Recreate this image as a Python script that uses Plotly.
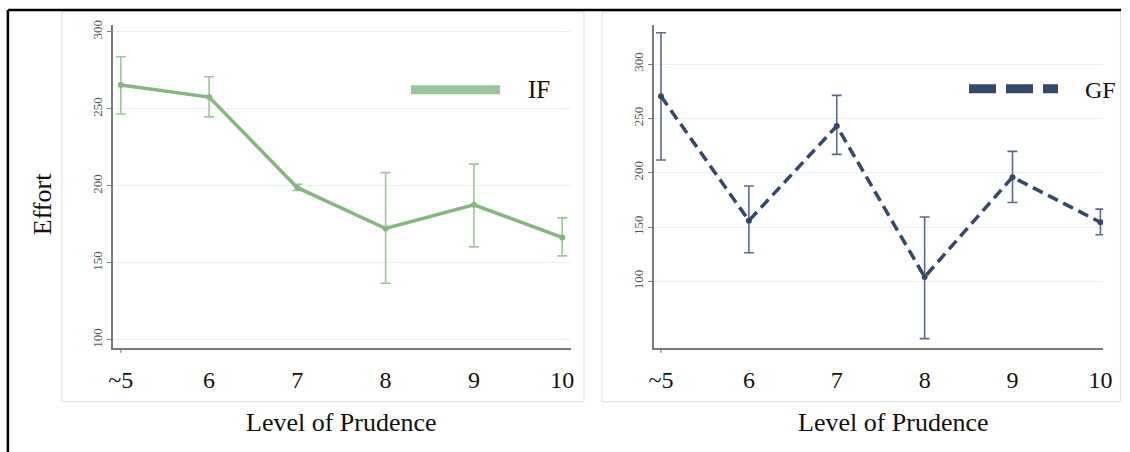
import plotly.graph_objects as go

# ---------------- data ----------------
categories = ["~5", "6", "7", "8", "9", "10"]

if_mean = [265.4, 257.6, 198.8, 172.3, 187.7, 166.5]
if_upper = [283.8, 270.8, 201.0, 208.6, 214.1, 179.2]
if_lower = [246.6, 244.8, 197.0, 136.8, 160.4, 154.5]

gf_mean = [270.3, 156.0, 243.0, 104.2, 196.0, 154.5]
gf_upper = [328.7, 187.8, 271.2, 159.4, 219.7, 166.6]
gf_lower = [211.8, 126.4, 216.9, 47.5, 172.7, 143.0]

y_ticks_left = [100, 150, 200, 250, 300]
y_ticks_right = [100, 150, 200, 250, 300]

# ---------------- styling ----------------
W, H = 1130, 452
SERIF = "Liberation Serif, Times New Roman, serif"
IF_LINE = "#84b67e"
IF_ERR = "#9cc799"
IF_LEG = "#9dc59b"
GF_LINE = "#34486a"
GF_ERR = "#5b6b88"
AXIS = "#7a7a7a"
GRID = "#eaf1f1"

# layout positions are given in target-picture pixels; the capture maps page
# pixels slightly (scale/offset), so convert back to page fractions here
SX, OX = 0.9875, 5.1
SY, OY = 0.992, 4.07


def px(x):
    return min(max(((x - OX) / SX) / W, 0), 1)


def py(y):
    return min(max(1 - ((y - OY) / SY) / H, 0), 1)


fig = go.Figure()

fig.add_trace(go.Scatter(
    x=categories, y=if_mean, mode="lines+markers", name="IF",
    line=dict(color=IF_LINE, width=3.5),
    marker=dict(color=IF_LINE, size=6),
    error_y=dict(type="data", symmetric=False,
                 array=[u - m for u, m in zip(if_upper, if_mean)],
                 arrayminus=[m - l for m, l in zip(if_mean, if_lower)],
                 color=IF_ERR, thickness=1.6, width=5),
    xaxis="x", yaxis="y", showlegend=False,
))

fig.add_trace(go.Scatter(
    x=categories, y=gf_mean, mode="lines+markers", name="GF",
    line=dict(color=GF_LINE, width=3.5, dash="11px,6px"),
    marker=dict(color=GF_LINE, size=6),
    error_y=dict(type="data", symmetric=False,
                 array=[u - m for u, m in zip(gf_upper, gf_mean)],
                 arrayminus=[m - l for m, l in zip(gf_mean, gf_lower)],
                 color=GF_ERR, thickness=1.6, width=5),
    xaxis="x2", yaxis="y2", showlegend=False,
))

xcommon = dict(
    type="category", showline=True, linecolor=AXIS, linewidth=1.5,
    showgrid=False, zeroline=False, ticks="", ticklabelstandoff=10,
    tickfont=dict(family=SERIF, size=24, color="#111"),
)
ycommon = dict(
    showline=True, linecolor=AXIS, linewidth=1.5,
    showgrid=True, gridcolor=GRID, gridwidth=1.2, zeroline=False,
    ticks="outside", ticklen=4, tickcolor=AXIS, tickwidth=1.2,
    tickangle=-90, tickfont=dict(family=SERIF, size=13, color="#555"),
)

ydom = [py(348), py(24)]

fig.update_layout(
    width=W, height=H, autosize=False,
    margin=dict(l=0, r=0, t=0, b=0),
    paper_bgcolor="white", plot_bgcolor="white",
    xaxis=dict(xcommon, domain=[px(113), px(571)], range=[-0.09, 5.1], anchor="y"),
    yaxis=dict(ycommon, domain=ydom, range=[94.8, 304.5], tickvals=y_ticks_left, anchor="x"),
    xaxis2=dict(xcommon, domain=[px(654), px(1103)], range=[-0.08, 5.03], anchor="y2"),
    yaxis2=dict(ycommon, domain=ydom, range=[39, 336], tickvals=y_ticks_right, anchor="x2"),
)

dom_h = (ydom[1] - ydom[0]) * H

shapes = []
# outer black frame (left and top edges)
shapes.append(dict(type="line", xref="paper", yref="paper", x0=px(8), x1=1, y0=py(9), y1=py(9),
                   line=dict(color="black", width=2.5)))
shapes.append(dict(type="line", xref="paper", yref="paper", x0=px(8), x1=px(8), y0=0, y1=py(9),
                   line=dict(color="black", width=2.5)))
# panel boxes
for x0, x1 in [(62, 584), (602, 1124)]:
    shapes.append(dict(type="rect", xref="paper", yref="paper", x0=px(x0), x1=min(px(x1), 0.9995),
                       y0=py(402), y1=py(11), line=dict(color="#dedede", width=1), layer="below"))
# single tick at first category on each x axis
for xr, yr in [("x", "y domain"), ("x2", "y2 domain")]:
    shapes.append(dict(type="line", xref=xr, yref=yr, x0=categories[0], x1=categories[0],
                       y0=0, y1=-5 / dom_h, line=dict(color=AXIS, width=1.2)))
# legend keys
shapes.append(dict(type="line", xref="paper", yref="paper", x0=px(411), x1=px(500),
                   y0=py(89), y1=py(89), line=dict(color=IF_LEG, width=9)))
shapes.append(dict(type="line", xref="paper", yref="paper", x0=px(969), x1=px(1058),
                   y0=py(88), y1=py(88), line=dict(color=GF_LINE, width=9, dash="27px,10px")))
fig.update_layout(shapes=shapes)

ann = []


def label(text, cx, cy, size, angle=0):
    ann.append(dict(text=text, x=px(cx), y=py(cy), xref="paper", yref="paper", showarrow=False,
                    xanchor="center", yanchor="middle", textangle=angle,
                    font=dict(family=SERIF, size=size, color="#111")))


label("IF", 539, 89, 25)
label("GF", 1100, 89, 24)
label("Effort", 42, 204, 26, -90)
label("Level of Prudence", 341.5, 423, 26)
label("Level of Prudence", 894, 423, 26)
fig.update_layout(annotations=ann)

css_fix = (
    "var s=document.createElement('style');"
    "s.innerHTML='html,body{margin:0;padding:0;overflow:hidden;}';"
    "document.head.appendChild(s);"
)

fig.write_html("out.html",
               config={"displayModeBar": False, "responsive": False},
               post_script=css_fix)
